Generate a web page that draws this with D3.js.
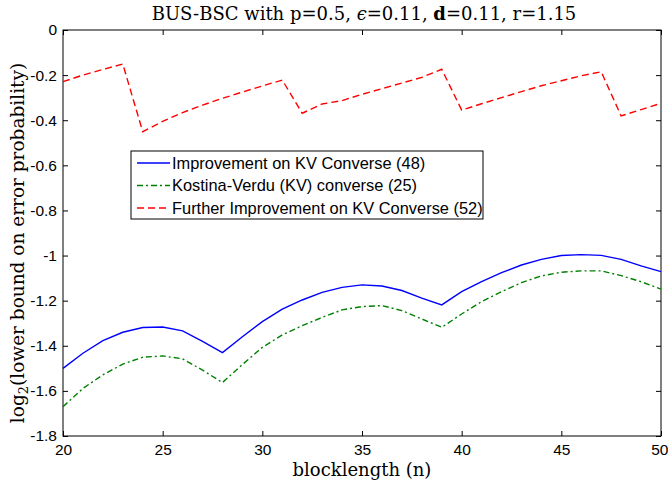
<!DOCTYPE html>
<html><head><meta charset="utf-8">
<script src="https://cdn.jsdelivr.net/npm/d3@7/dist/d3.min.js"></script>
<style>body{margin:0;background:#fff}</style>
</head><body><svg id="c" width="668" height="485"></svg>
<script>
const blocklength = d3.range(20, 51);
const improvedKV = [-1.50,-1.433,-1.377,-1.340,-1.319,-1.317,-1.334,-1.38,-1.430,-1.36,-1.293,-1.238,-1.197,-1.163,-1.141,-1.130,-1.135,-1.155,-1.189,-1.219,-1.160,-1.116,-1.076,-1.042,-1.017,-1.000,-0.996,-0.999,-1.017,-1.046,-1.071];
const kostinaVerdu = [-1.67,-1.589,-1.529,-1.481,-1.451,-1.445,-1.458,-1.508,-1.563,-1.483,-1.407,-1.352,-1.311,-1.274,-1.241,-1.226,-1.222,-1.244,-1.281,-1.318,-1.259,-1.204,-1.160,-1.120,-1.090,-1.074,-1.068,-1.068,-1.089,-1.116,-1.149];
const furtherKV = [-0.229,-0.200,-0.175,-0.151,-0.451,-0.405,-0.366,-0.333,-0.303,-0.275,-0.248,-0.222,-0.369,-0.328,-0.313,-0.285,-0.260,-0.235,-0.210,-0.174,-0.355,-0.327,-0.300,-0.273,-0.247,-0.225,-0.203,-0.185,-0.381,-0.353,-0.325];
const xTicks = [20,25,30,35,40,45,50];
const yTicks = [0,-0.2,-0.4,-0.6,-0.8,-1,-1.2,-1.4,-1.6,-1.8];
const seriesNames = ["Improvement on KV Converse (48)","Kostina-Verdu (KV) converse (25)","Further Improvement on KV Converse (52)"];

const svg = d3.select("#c");
const L=63,R=661,T=30,B=436;
const x = d3.scaleLinear().domain([20,50]).range([L,R]);
const y = d3.scaleLinear().domain([-1.8,0]).range([B,T]);
const sans = "'Liberation Sans', Arial, sans-serif";
const serif = "'DejaVu Serif',serif";

// axes with inward ticks
const gB = svg.append("g").attr("transform",`translate(0,${B})`)
  .call(d3.axisBottom(x).tickValues(xTicks).tickSizeInner(-5).tickSizeOuter(0).tickPadding(8).tickFormat(d3.format("d")));
const gT = svg.append("g").attr("transform",`translate(0,${T})`)
  .call(d3.axisTop(x).tickValues(xTicks).tickSizeInner(-5).tickSizeOuter(0).tickFormat(""));
const gL = svg.append("g").attr("transform",`translate(${L},0)`)
  .call(d3.axisLeft(y).tickValues(yTicks).tickSizeInner(-5).tickSizeOuter(0).tickPadding(6).tickFormat(d=>d===0?"0":String(d)));
const gR = svg.append("g").attr("transform",`translate(${R},0)`)
  .call(d3.axisRight(y).tickValues(yTicks).tickSizeInner(-5).tickSizeOuter(0).tickFormat(""));
[gB,gT,gL,gR].forEach(g=>{
  g.selectAll(".domain").remove();
  g.selectAll("line").attr("stroke","#000");
  g.selectAll("text").attr("font-family",sans).attr("font-size",15.5).attr("fill","#000");
});
// keep the last x label inside the window
gB.selectAll(".tick").filter(d=>d===50).select("text").attr("text-anchor","end").attr("x",7);
svg.append("rect").attr("x",L).attr("y",T).attr("width",R-L).attr("height",B-T)
  .attr("fill","none").attr("stroke","#000").attr("stroke-width",1);

const line = d3.line().x((d,i)=>x(blocklength[i])).y(d=>y(d));
const styles = [
  {data:improvedKV, color:"#0000ff", dash:null},
  {data:kostinaVerdu, color:"#008000", dash:"6,3,2,3"},
  {data:furtherKV, color:"#ff0000", dash:"7,4"}
];
styles.forEach(s=>{
  svg.append("path").attr("d",line(s.data)).attr("fill","none")
    .attr("stroke",s.color).attr("stroke-width",1.4)
    .attr("stroke-dasharray",s.dash);
});

// legend
const lg = svg.append("g");
lg.append("rect").attr("x",131).attr("y",151).attr("width",352).attr("height",68)
  .attr("fill","#fff").attr("stroke","#000").attr("stroke-width",1);
styles.forEach((s,i)=>{
  const yy = 163 + i*22.5;
  lg.append("line").attr("x1",137).attr("x2",170).attr("y1",yy).attr("y2",yy)
    .attr("stroke",s.color).attr("stroke-width",1.4).attr("stroke-dasharray",s.dash);
  lg.append("text").attr("x",172).attr("y",yy).attr("dy","0.36em")
    .attr("font-family",sans).attr("font-size",16.4).text(seriesNames[i]);
});

// title
const tt = svg.append("text").attr("x",364).attr("y",20).attr("text-anchor","middle")
  .attr("font-family",serif).attr("font-size",18);
tt.append("tspan").text("BUS-BSC with p=0.5, ");
tt.append("tspan").attr("font-style","italic").text("ϵ");
tt.append("tspan").text("=0.11, ");
tt.append("tspan").attr("font-weight","bold").text("d");
tt.append("tspan").text("=0.11, r=1.15");

// x label
svg.append("text").attr("x",362).attr("y",476).attr("text-anchor","middle")
  .attr("font-family",serif).attr("font-size",18).text("blocklength (n)");

// y label
const yl = svg.append("text").attr("transform","translate(24,243) rotate(-90)")
  .attr("text-anchor","middle").attr("font-family",serif).attr("font-size",18.5);
yl.append("tspan").text("log");
yl.append("tspan").attr("font-size",13).attr("dy",4).text("2");
yl.append("tspan").attr("dy",-4).text("(lower bound on error probability)");
</script></body></html>
